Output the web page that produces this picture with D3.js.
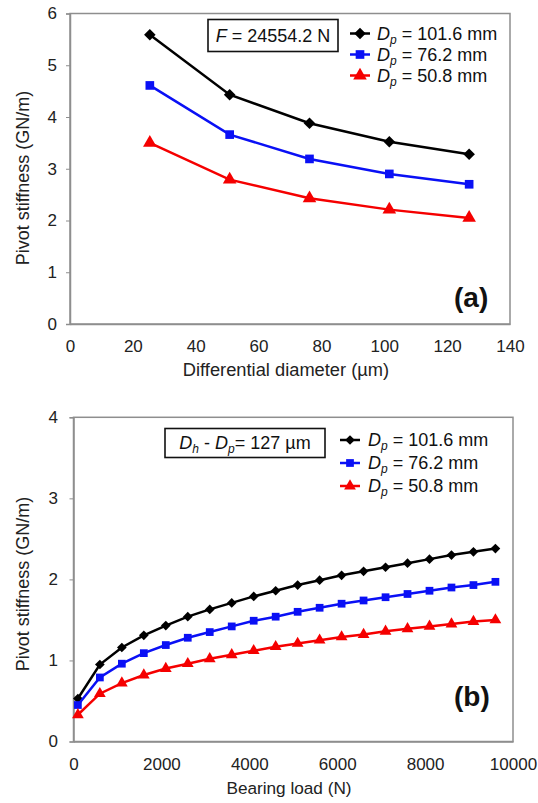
<!DOCTYPE html>
<html><head><meta charset="utf-8">
<script src="https://cdn.jsdelivr.net/npm/d3@7"></script>
<style>
html,body{margin:0;padding:0;background:#fff;}
svg{display:block;font-family:"Liberation Sans",Arial,sans-serif;}
</style></head><body>
<svg id="c" width="538" height="803"></svg>
<script>
// ---------- data (a) ----------
const diamA = [25.4, 50.8, 76.2, 101.6, 127];
const a_dp1016 = [5.59, 4.43, 3.88, 3.52, 3.28];
const a_dp762  = [4.61, 3.66, 3.19, 2.90, 2.70];
const a_dp508  = [3.50, 2.79, 2.43, 2.21, 2.05];
const xTicksA = [0, 20, 40, 60, 80, 100, 120, 140];
const yTicksA = [0, 1, 2, 3, 4, 5, 6];
// ---------- data (b) ----------
const loadB = [100,600,1100,1600,2100,2600,3100,3600,4100,4600,5100,5600,6100,6600,7100,7600,8100,8600,9100,9600];
const b_dp1016 = [0.53,0.95,1.16,1.31,1.43,1.54,1.63,1.71,1.79,1.86,1.93,1.99,2.05,2.10,2.15,2.20,2.25,2.30,2.34,2.38];
const b_dp762  = [0.45,0.79,0.96,1.09,1.19,1.28,1.35,1.42,1.49,1.54,1.60,1.65,1.70,1.74,1.78,1.82,1.86,1.90,1.93,1.97];
const b_dp508  = [0.33,0.59,0.72,0.82,0.90,0.96,1.02,1.07,1.12,1.17,1.21,1.25,1.29,1.32,1.36,1.39,1.42,1.45,1.48,1.50];
const xTicksB = [0, 2000, 4000, 6000, 8000, 10000];
const yTicksB = [0, 1, 2, 3, 4];
const seriesNames = ["101.6 mm", "76.2 mm", "50.8 mm"];
const seriesColors = ["#000000", "#0a10f5", "#f50000"];
const seriesSymbols = [d3.symbolDiamond2, d3.symbolSquare, d3.symbolTriangle];

const svg = d3.select("#c");

function panel(cfg){
  const g = svg.append("g");
  const x = d3.scaleLinear().domain(cfg.xDomain).range([cfg.left, cfg.right]);
  const y = d3.scaleLinear().domain(cfg.yDomain).range([cfg.bottom, cfg.top]);
  g.append("rect").attr("x",cfg.left).attr("y",cfg.top)
    .attr("width",cfg.right-cfg.left).attr("height",cfg.bottom-cfg.top)
    .attr("fill","none").attr("stroke","#8e8e8e").attr("stroke-width",1.5);
  const ya = g.append("g").attr("transform",`translate(${cfg.left},0)`)
    .call(d3.axisLeft(y).tickValues(cfg.yTicks).tickSize(4).tickPadding(cfg.yPad).tickFormat(d3.format("d")));
  ya.select(".domain").attr("stroke","#8e8e8e").attr("stroke-width",1.5);
  ya.selectAll(".tick line").attr("stroke","#8e8e8e");
  ya.selectAll(".tick text").attr("font-size",17).attr("fill","#222").attr("font-family","Liberation Sans, Arial, sans-serif");
  const xa = g.append("g").attr("transform",`translate(0,${cfg.bottom})`)
    .call(d3.axisBottom(x).tickValues(cfg.xTicks).tickSize(0).tickPadding(16).tickFormat(d3.format("d")));
  xa.select(".domain").attr("stroke","#8e8e8e").attr("stroke-width",1.5);
  xa.selectAll(".tick text").attr("font-size",17).attr("fill","#222").attr("font-family","Liberation Sans, Arial, sans-serif");
  g.append("text").attr("x",cfg.xTitleX).attr("y",cfg.xTitleY)
    .attr("text-anchor","middle").attr("font-size",cfg.xTitleSize).attr("fill","#222").text(cfg.xTitle);
  g.append("text").attr("transform",`translate(${cfg.yTitleX},${cfg.yTitleC}) rotate(-90)`)
    .attr("text-anchor","middle").attr("font-size",18).attr("fill","#222").text("Pivot stiffness (GN/m)");
  const line = d3.line().x((d,i)=>x(cfg.xs[i])).y(d=>y(d));
  cfg.series.forEach((s,k)=>{
    g.append("path").datum(s).attr("d",line).attr("fill","none")
      .attr("stroke",seriesColors[k]).attr("stroke-width",cfg.lw);
    g.selectAll(null).data(s).enter().append("path")
      .attr("d",d3.symbol().type(seriesSymbols[k]).size(cfg.msize[k]))
      .attr("transform",(d,i)=>`translate(${x(cfg.xs[i])},${y(d)})`)
      .attr("fill",seriesColors[k]);
  });
  seriesNames.forEach((n,k)=>{
    const ly = cfg.legY + k*cfg.legDy;
    g.append("line").attr("x1",cfg.legX).attr("x2",cfg.legX+20).attr("y1",ly).attr("y2",ly)
      .attr("stroke",seriesColors[k]).attr("stroke-width",cfg.lw);
    g.append("path").attr("d",d3.symbol().type(seriesSymbols[k]).size(cfg.msize[k]))
      .attr("transform",`translate(${cfg.legX+10},${ly})`).attr("fill",seriesColors[k]);
    const t = g.append("text").attr("x",cfg.legX+cfg.legTx).attr("y",ly+6).attr("font-size",18).attr("fill","#111");
    t.append("tspan").attr("font-style","italic").text("D");
    t.append("tspan").attr("font-style","italic").attr("font-size",12).attr("dy",4).text("p");
    t.append("tspan").attr("dy",-4).text(" = "+n);
  });
  g.append("text").attr("x",cfg.labX).attr("y",cfg.labY).attr("font-size",28)
    .attr("font-weight","bold").attr("fill","#111").text(cfg.label);
  g.append("rect").attr("x",cfg.box[0]).attr("y",cfg.box[1]).attr("width",cfg.box[2]).attr("height",cfg.box[3])
    .attr("fill","#fff").attr("stroke","#111").attr("stroke-width",1.6);
  cfg.boxText(g.append("text").attr("x",cfg.box[0]+cfg.box[2]/2).attr("y",cfg.box[1]+cfg.box[3]/2+6)
    .attr("text-anchor","middle").attr("font-size",18).attr("fill","#111"));
}

panel({
  left:70, right:510, top:13.5, bottom:324,
  xDomain:[0,140], yDomain:[0,6], xTicks:xTicksA, yTicks:yTicksA, yPad:9,
  xs: diamA, series:[a_dp1016,a_dp762,a_dp508], lw:2.5, msize:[85,75,80],
  xTitle:"Differential diameter (\u00b5m)", xTitleX:286, xTitleY:376, xTitleSize:18.3,
  yTitleX:28.5, yTitleC:178,
  legX:350, legTx:27, legY:33.5, legDy:21,
  label:"(a)", labX:454, labY:307,
  box:[208,19.5,130,32],
  boxText: t=>{ t.append("tspan").attr("font-style","italic").text("F"); t.append("tspan").text(" = 24554.2 N"); }
});
panel({
  left:73.5, right:513, top:417.3, bottom:741.5,
  xDomain:[0,10000], yDomain:[0,4], xTicks:xTicksB, yTicks:yTicksB, yPad:11.5,
  xs: loadB, series:[b_dp1016,b_dp762,b_dp508], lw:2.5, msize:[60,60,60],
  xTitle:"Bearing load (N)", xTitleX:289, xTitleY:794, xTitleSize:17.2,
  yTitleX:28.5, yTitleC:584,
  legX:340, legTx:28, legY:440, legDy:23,
  label:"(b)", labX:454, labY:706,
  box:[165,428.5,160,29],
  boxText: t=>{
    t.append("tspan").attr("font-style","italic").text("D");
    t.append("tspan").attr("font-style","italic").attr("font-size",12).attr("dy",4).text("h");
    t.append("tspan").attr("dy",-4).text(" - ");
    t.append("tspan").attr("font-style","italic").text("D");
    t.append("tspan").attr("font-style","italic").attr("font-size",12).attr("dy",4).text("p");
    t.append("tspan").attr("dy",-4).text("= 127 \u00b5m");
  }
});
</script></body></html>
